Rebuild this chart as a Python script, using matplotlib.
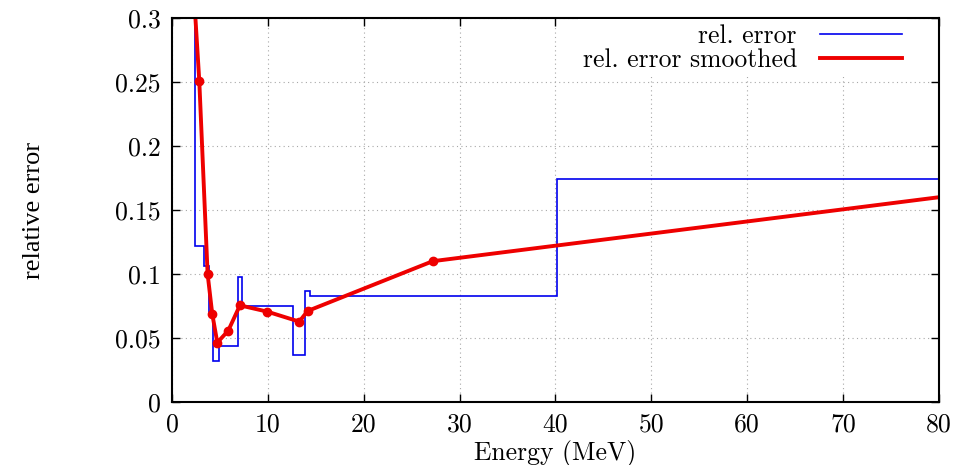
import matplotlib.pyplot as plt

# step histogram of relative error (bin edges in MeV)
bin_edges = [2.0, 2.4, 3.37, 3.9, 4.3, 4.9, 6.9, 7.33, 12.65, 13.9, 14.4, 40.2, 80.0]
rel_error = [0.5, 0.122, 0.106, 0.070, 0.032, 0.0437, 0.0974, 0.0753, 0.0367, 0.087, 0.0828, 0.174]

# smoothed relative error
smooth_energy = [2.2, 2.85, 3.72, 4.2, 4.73, 5.87, 7.09, 9.94, 13.28, 14.15, 27.2, 85.0]
smooth_error = [0.33, 0.251, 0.100, 0.069, 0.0464, 0.0557, 0.0755, 0.0706, 0.0628, 0.0711, 0.110, 0.1647]

xticks = [0, 10, 20, 30, 40, 50, 60, 70, 80]
yticks = [0, 0.05, 0.1, 0.15, 0.2, 0.25, 0.3]
ytick_labels = ['0', '0.05', '0.1', '0.15', '0.2', '0.25', '0.3']

plt.rcParams['axes.formatter.use_mathtext'] = True
cm = 'cmr10'
fs = 18.5

fig = plt.figure(figsize=(9.77, 4.65), dpi=100)
ax = fig.add_axes([0.176, 0.1355, 0.785, 0.8258])

ax.stairs(rel_error, bin_edges, baseline=None, color='#0000ee', linewidth=1.2,
          label='rel. error')
ax.plot(smooth_energy, smooth_error, color='#ee0000', linewidth=2.8,
        marker='o', markersize=6, label='rel. error smoothed')

ax.set_xlim(0, 80)
ax.set_ylim(0, 0.3)
ax.set_xticks(xticks)
ax.set_xticklabels([str(t) for t in xticks], fontfamily=cm, fontsize=fs)
ax.set_yticks(yticks)
ax.set_yticklabels(ytick_labels, fontfamily=cm, fontsize=fs)

ax.tick_params(direction='in', top=True, right=True, length=6, width=1, pad=8)
for s in ax.spines.values():
    s.set_linewidth(1.5)
ax.set_axisbelow(True)
ax.grid(color='#a8a8a8', linestyle=(0, (1, 3)), linewidth=0.8)

ax.set_xlabel('Energy (MeV)', fontfamily=cm, fontsize=fs)
ax.xaxis.set_label_coords(0.5, -0.098)
ax.set_ylabel('relative error', fontfamily='Liberation Serif', fontsize=19)
ax.yaxis.set_label_coords(-0.165, 0.5)

leg = ax.legend(loc='upper right', bbox_to_anchor=(0.959, 0.997), borderaxespad=0,
                markerfirst=False, frameon=True, fancybox=False, framealpha=1,
                edgecolor='none', facecolor='white', handlelength=3.2,
                handletextpad=0.9, labelspacing=0.0, borderpad=0.2,
                prop={'family': cm, 'size': fs})
for line in leg.get_lines():
    line.set_marker('')

fig.savefig('out.png', dpi=100)
